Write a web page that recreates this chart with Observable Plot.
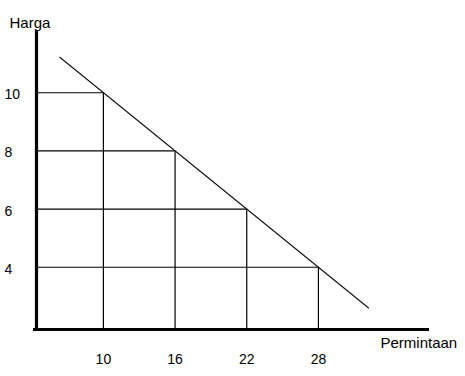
<!DOCTYPE html>
<html>
<head>
<meta charset="utf-8">
<script src="https://cdn.jsdelivr.net/npm/d3@7"></script>
<script src="https://cdn.jsdelivr.net/npm/@observablehq/plot@0.6"></script>
<style>
  html, body { margin: 0; padding: 0; background: #fff; }
</style>
</head>
<body>
<div id="chart"></div>
<script>
// Demand schedule (Permintaan vs Harga)
const quantities = [10, 16, 22, 28];
const prices = [10, 8, 6, 4];
// Demand line endpoints (extended beyond the schedule)
const lineQ = [6.35, 32.2];
const lineP = [11.22, 2.6];
const xTitle = "Permintaan";
const yTitle = "Harga";

const points = quantities.map((q, i) => ({q, p: prices[i]}));
const linePts = lineQ.map((q, i) => ({q, p: lineP[i]}));

const xDomain = [4.4, 37.3];
const yDomain = [1.86, 12.14];

const chart = Plot.plot({
  width: 465,
  height: 376,
  marginLeft: 36,
  marginRight: 36,
  marginTop: 30,
  marginBottom: 47,
  style: {fontFamily: "'Liberation Sans', Arial, sans-serif", fontSize: "14px", background: "#fff", color: "#000", overflow: "visible"},
  x: {domain: xDomain, axis: null},
  y: {domain: yDomain, axis: null},
  marks: [
    // guide lines from axes to each point
    Plot.ruleY(points, {y: "p", x1: xDomain[0], x2: "q", stroke: "#000", strokeWidth: 1.2}),
    Plot.ruleX(points, {x: "q", y1: yDomain[0], y2: "p", stroke: "#000", strokeWidth: 1.2}),
    // demand curve
    Plot.line(linePts, {x: "q", y: "p", stroke: "#111", strokeWidth: 1.1}),
    // axes
    Plot.ruleX([xDomain[0]], {stroke: "#000", strokeWidth: 3.2}),
    Plot.ruleY([yDomain[0]], {stroke: "#000", strokeWidth: 3.2, dx: 0, insetLeft: -3}),
    // tick labels
    Plot.text(quantities, {x: d => d, y: yDomain[0], dy: 30, fontSize: 14, fill: "#000"}),
    Plot.text(prices, {x: xDomain[0], y: d => d, dx: -32, dy: 2, textAnchor: "start", fontSize: 14, fill: "#000"}),
    // axis titles
    Plot.text([yTitle], {frameAnchor: "top-left", dx: -27, dy: -13, textAnchor: "start", fontSize: 15, fill: "#000"}),
    Plot.text([xTitle], {frameAnchor: "bottom-right", dx: -49, dy: 18, textAnchor: "start", fontSize: 15, fill: "#000"})
  ]
});
document.getElementById("chart").appendChild(chart);
</script>
</body>
</html>
